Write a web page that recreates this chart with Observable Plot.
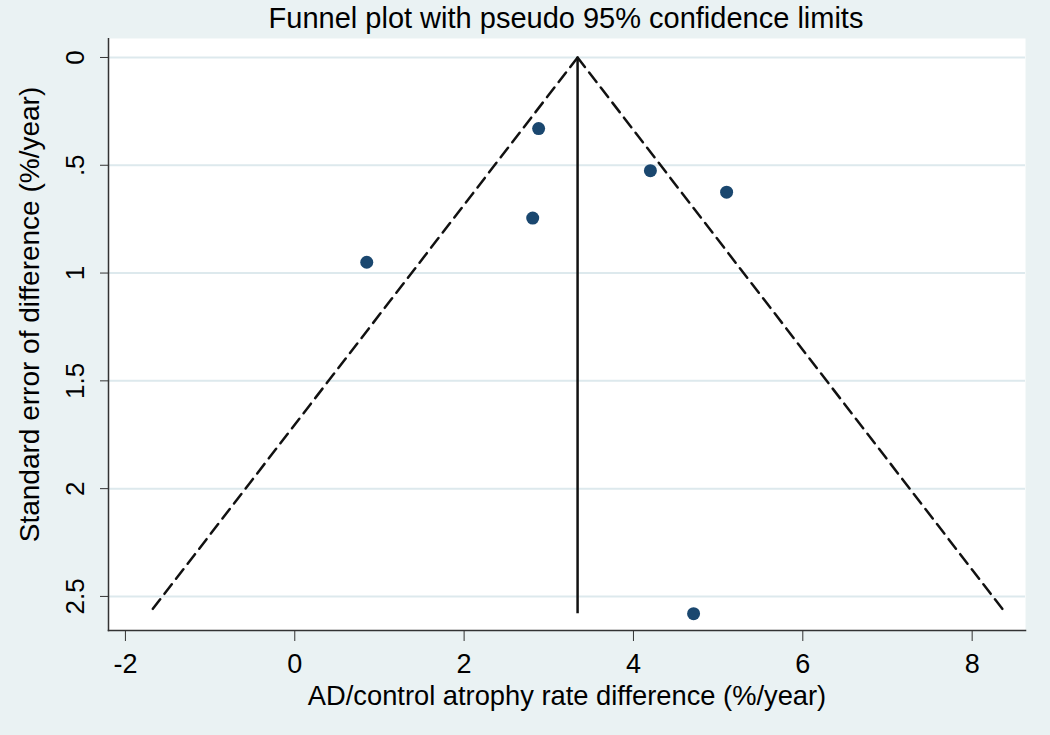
<!DOCTYPE html>
<html><head><meta charset="utf-8">
<script src="https://cdn.jsdelivr.net/npm/d3@7"></script>
<script src="https://cdn.jsdelivr.net/npm/@observablehq/plot@0.6"></script>
<style>
html,body{margin:0;padding:0;background:#eaf2f3;}
#wrap{width:1050px;height:735px;overflow:hidden;background:#eaf2f3;}
#title{box-sizing:border-box;width:1050px;height:38px;padding-left:82px;line-height:36px;text-align:center;font-family:"Liberation Sans",Arial,sans-serif;font-size:29px;color:#000;}
</style></head><body>
<div id="wrap"><div id="title">Funnel plot with pseudo 95% confidence limits</div><div id="chart"></div></div>
<script>
// Study estimates (x = rate difference, se = standard error)
const studyEffect = [2.88, 4.20, 5.10, 2.81, 0.85, 4.71];
const studySE = [0.33, 0.525, 0.625, 0.745, 0.95, 2.58];
// Pooled estimate and pseudo 95% limits
const pooledEffect = 3.34;
const seMax = 2.58;
const limitSE = [0, 2.58];
const lowerLimitX = [3.34, -1.72];
const upperLimitX = [3.34, 8.40];
// Axes
const xTicks = [-2, 0, 2, 4, 6, 8];
const xTickLabels = ["-2", "0", "2", "4", "6", "8"];
const yTicks = [0, 0.5, 1, 1.5, 2, 2.5];
const yTickLabels = ["0", ".5", "1", "1.5", "2", "2.5"];
const xTitle = "AD/control atrophy rate difference (%/year)";
const yTitle = "Standard error of difference (%/year)";

const studies = studyEffect.map((x, i) => ({x, se: studySE[i]}));
const lower = limitSE.map((se, i) => ({x: lowerLimitX[i], se}));
const upper = limitSE.map((se, i) => ({x: upperLimitX[i], se}));

const chart = Plot.plot({
  width: 1050, height: 697,
  marginTop: 0, marginLeft: 108, marginRight: 25, marginBottom: 105,
  style: {background: "transparent", fontFamily: "'Liberation Sans', Arial, sans-serif", color: "#000"},
  x: {domain: [-2.2, 8.63]},
  y: {domain: [-0.088, 2.658], reverse: true},
  marks: [
    Plot.frame({fill: "white", stroke: null}),
    Plot.ruleY(yTicks, {stroke: "#dde9ed", strokeWidth: 2}),
    Plot.line(lower, {x: "x", y: "se", stroke: "#111", strokeWidth: 2.5, strokeDasharray: "12,7"}),
    Plot.line(upper, {x: "x", y: "se", stroke: "#111", strokeWidth: 2.5, strokeDasharray: "12,7"}),
    Plot.ruleX([pooledEffect], {y1: 0, y2: seMax, stroke: "#111", strokeWidth: 2.5}),
    Plot.dot(studies, {x: "x", y: "se", r: 6.5, fill: "#1a476f", stroke: null}),
    Plot.axisX({ticks: xTicks, tickFormat: d => xTickLabels[xTicks.indexOf(d)], tickSize: 11, tickPadding: 12, fontSize: 27, label: null, stroke: "#333"}),
    Plot.axisY({ticks: yTicks, tickFormat: d => yTickLabels[yTicks.indexOf(d)], tickSize: 8, tickRotate: -90, tickPadding: 17, fontSize: 26, label: null, stroke: "#333"}),
    Plot.frame({anchor: "left", stroke: "#333", strokeWidth: 1.5}),
    Plot.frame({anchor: "bottom", stroke: "#333", strokeWidth: 1.5}),
    Plot.text([xTitle], {frameAnchor: "bottom", dy: 74, fontSize: 27.3, text: d => d}),
    Plot.text([yTitle], {frameAnchor: "left", textAnchor: "middle", dx: -78, dy: -20, rotate: -90, fontSize: 28, text: d => d})
  ]
});
document.getElementById("chart").appendChild(chart);
</script>
</body></html>
